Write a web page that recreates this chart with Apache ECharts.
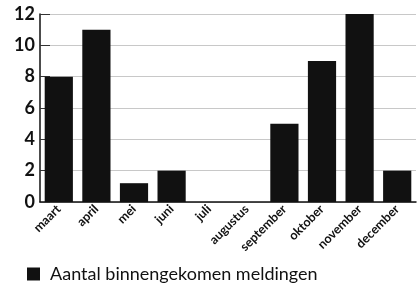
<!DOCTYPE html>
<html><head><meta charset="utf-8">
<script src="https://cdn.jsdelivr.net/npm/echarts@6/dist/echarts.min.js"></script>
<style>html,body{margin:0;padding:0;background:#fff}#c{width:418px;height:293px}</style>
</head><body><div id="c"></div>
<script>
const categories = ['maart','april','mei','juni','juli','augustus','september','oktober','november','december'];
const meldingen = [8, 11, 1.2, 2, 0, 0, 5, 9, 12, 2];
const seriesName = 'Aantal binnengekomen meldingen';
const chart = echarts.init(document.getElementById('c'), null, {renderer:'canvas'});
chart.setOption({
  animation:false,
  textStyle:{fontFamily:'Lato'},
  grid:{left:40,right:2,top:14,bottom:91,containLabel:false},
  legend:{left:22,top:260,itemWidth:13,itemHeight:13,itemGap:10,icon:'rect',
    textStyle:{fontSize:18,color:'#111',fontFamily:'Lato',padding:[0,0,0,5]},data:[seriesName]},
  xAxis:{type:'category',data:categories,
    axisLine:{lineStyle:{color:'#111',width:1.5}},
    axisTick:{inside:true,length:4,lineStyle:{color:'#555'}},
    axisLabel:{rotate:45,fontSize:12.5,fontWeight:'bold',color:'#111',margin:5,interval:0}},
  yAxis:{type:'value',min:0,max:12,interval:2,
    axisLine:{show:true,lineStyle:{color:'#111',width:1.5}},
    axisTick:{show:true,inside:true,length:10,lineStyle:{color:'#333'}},
    splitLine:{lineStyle:{color:'#c8c8c8'}},
    axisLabel:{fontSize:18,fontWeight:'bold',color:'#111',margin:5}},
  series:[{name:seriesName,type:'bar',data:meldingen,barWidth:'75%',
    itemStyle:{color:'#111'}}]
});
</script></body></html>
